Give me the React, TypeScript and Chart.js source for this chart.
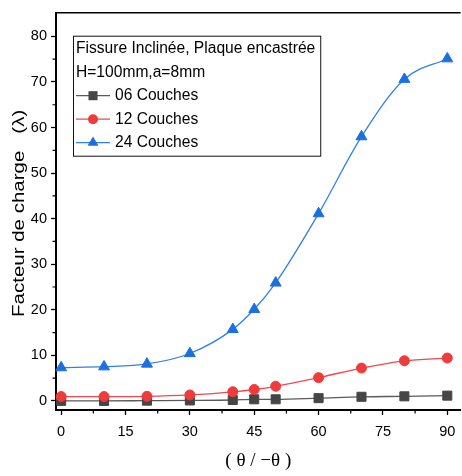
import React, { useEffect, useRef } from "react";
import { Chart, registerables } from "chart.js";

Chart.register(...registerables);

const angles = [0, 10, 20, 30, 40, 45, 50, 60, 70, 80, 90];
const couches06 = [0.0, 0.0, 0.05, 0.1, 0.2, 0.35, 0.35, 0.6, 0.9, 1.0, 1.15];
const couches12 = [0.95, 0.95, 1.0, 1.3, 2.0, 2.5, 3.2, 5.1, 7.2, 8.8, 9.4];
const couches24 = [7.3, 7.5, 8.1, 10.4, 15.7, 20.1, 25.9, 41.1, 58.0, 70.6, 75.1];
const seriesLabels = ["06 Couches", "12 Couches", "24 Couches"];
const legendTitle = ["Fissure Inclinée, Plaque encastrée", "H=100mm,a=8mm"];
const xTicks = [0, 15, 30, 45, 60, 75, 90];
const xMinorTicks = [7.5, 22.5, 37.5, 52.5, 67.5, 82.5];
const yTicks = [0, 10, 20, 30, 40, 50, 60, 70, 80];
const yMinorTicks = [5, 15, 25, 35, 45, 55, 65, 75];
const xTitle = "( θ / −θ )";
const yTitle = "Facteur de charge   (λ)";

const seriesValues = [couches06, couches12, couches24];
const pointColors = ["#464646", "#ee3b3b", "#1c6fe0"];
const lineColors = ["#5a5a5a", "#f04848", "#2f80e8"];
const pointStyles = ["rect", "circle", "triangle"];
const pointRadii = [6.4, 5, 6.3];

const FONT = "'Liberation Sans', Arial, sans-serif";

const extrasPlugin = {
  id: "extras",
  afterDraw(chart: any) {
    const ctx = chart.ctx;
    const area = chart.chartArea;
    const xs = chart.scales.x;
    const ys = chart.scales.y;
    ctx.save();
    // top frame
    ctx.strokeStyle = "#000";
    ctx.lineWidth = 1.5;
    ctx.beginPath();
    ctx.moveTo(area.left, area.top);
    ctx.lineTo(area.right, area.top);
    ctx.stroke();
    // minor ticks
    ctx.lineWidth = 1.2;
    ctx.beginPath();
    xMinorTicks.forEach((v) => {
      const px = xs.getPixelForValue(v);
      ctx.moveTo(px, area.bottom);
      ctx.lineTo(px, area.bottom + 3.5);
    });
    yMinorTicks.forEach((v) => {
      const py = ys.getPixelForValue(v);
      ctx.moveTo(area.left, py);
      ctx.lineTo(area.left - 3.5, py);
    });
    ctx.stroke();

    // y axis title (stretched along its length like the reference)
    ctx.save();
    ctx.font = `16px ${FONT}`;
    ctx.fillStyle = "#000";
    ctx.textAlign = "center";
    ctx.textBaseline = "alphabetic";
    ctx.translate(24, (ys.top + ys.bottom) / 2 + 2);
    ctx.rotate(-Math.PI / 2);
    ctx.scale(1.28, 1);
    ctx.fillText(yTitle, 0, 0);
    ctx.restore();

    // legend
    const bx = area.left + 17;
    const by = area.top + 23;
    const lineH = 23.5;
    ctx.font = `15.6px ${FONT}`;
    ctx.textBaseline = "middle";
    ctx.textAlign = "left";
    ctx.fillStyle = "#000";
    const w0 = ctx.measureText(legendTitle[0]).width;
    const bw = w0 + 8;
    const bh = 120;
    ctx.lineWidth = 1;
    ctx.strokeStyle = "#111";
    ctx.strokeRect(bx + 0.5, by + 0.5, bw, bh);
    let ty = by + 13;
    legendTitle.forEach((t) => {
      ctx.fillText(t, bx + 3, ty);
      ty += lineH;
    });
    seriesLabels.forEach((lab, i) => {
      const mx = bx + 20;
      ctx.strokeStyle = lineColors[i];
      ctx.lineWidth = 1.3;
      ctx.beginPath();
      ctx.moveTo(bx + 3, ty);
      ctx.lineTo(bx + 37, ty);
      ctx.stroke();
      ctx.fillStyle = pointColors[i];
      const r = pointRadii[i];
      ctx.beginPath();
      if (pointStyles[i] === "rect") {
        const s = Math.SQRT1_2 * r;
        ctx.rect(mx - s, ty - s, 2 * s, 2 * s);
      } else if (pointStyles[i] === "circle") {
        ctx.arc(mx, ty, r, 0, Math.PI * 2);
      } else {
        ctx.moveTo(mx, ty - r);
        ctx.lineTo(mx + 0.866 * r, ty + r / 2);
        ctx.lineTo(mx - 0.866 * r, ty + r / 2);
        ctx.closePath();
      }
      ctx.fill();
      ctx.fillStyle = "#000";
      ctx.fillText(lab, bx + 42, ty);
      ty += lineH;
    });
    ctx.restore();
  },
};

export default function App() {
  const ref = useRef<HTMLCanvasElement | null>(null);
  useEffect(() => {
    if (!ref.current) return;
    const chart = new Chart(ref.current, {
      type: "line",
      data: {
        datasets: seriesValues.map((vals, i) => ({
          label: seriesLabels[i],
          data: angles.map((a, j) => ({ x: a, y: vals[j] })),
          borderColor: lineColors[i],
          backgroundColor: pointColors[i],
          pointBackgroundColor: pointColors[i],
          pointBorderColor: pointColors[i],
          pointBorderWidth: 1,
          borderWidth: 1.3,
          pointStyle: pointStyles[i] as any,
          pointRadius: pointRadii[i],
          cubicInterpolationMode: "monotone" as const,
          fill: false,
          order: 3 - i,
          clip: false as any,
        })),
      },
      options: {
        responsive: false,
        animation: false,
        layout: { padding: { top: 9, right: 0, bottom: 0, left: 0 } },
        plugins: {
          legend: { display: false },
          tooltip: { enabled: false },
        },
        scales: {
          x: {
            type: "linear",
            min: -1.2,
            max: 93.1,
            afterBuildTicks: (s: any) => {
              s.ticks = xTicks.map((v) => ({ value: v }));
            },
            afterFit: (s: any) => {
              s.height = 66;
            },
            border: { display: true, color: "#000", width: 2 },
            grid: {
              drawOnChartArea: false,
              drawTicks: true,
              tickLength: 5,
              tickColor: "#000",
              tickWidth: 1.3,
            },
            ticks: {
              color: "#000",
              font: { family: FONT, size: 14.5 },
              padding: 8,
              maxRotation: 0,
            },
            title: {
              display: true,
              text: xTitle,
              color: "#000",
              font: { family: "'Liberation Serif', 'Times New Roman', serif", size: 19 },
              padding: { top: 0, bottom: 4 },
            },
          },
          y: {
            type: "linear",
            min: -2,
            max: 85.2,
            afterBuildTicks: (s: any) => {
              s.ticks = yTicks.map((v) => ({ value: v }));
            },
            afterFit: (s: any) => {
              s.width = 56;
            },
            border: { display: true, color: "#000", width: 2 },
            grid: {
              drawOnChartArea: false,
              drawTicks: true,
              tickLength: 5,
              tickColor: "#000",
              tickWidth: 1.3,
            },
            ticks: {
              color: "#000",
              font: { family: FONT, size: 14.5 },
              padding: 4,
            },
            title: { display: false },
          },
        },
      },
      plugins: [extrasPlugin],
    });
    return () => chart.destroy();
  }, []);
  return (
    <div
      style={{
        position: "fixed",
        left: 0,
        top: 0,
        width: 462,
        height: 476,
        overflow: "hidden",
        background: "#fff",
      }}
    >
      <canvas ref={ref} width={468} height={476} style={{ display: "block" }} />
    </div>
  );
}
